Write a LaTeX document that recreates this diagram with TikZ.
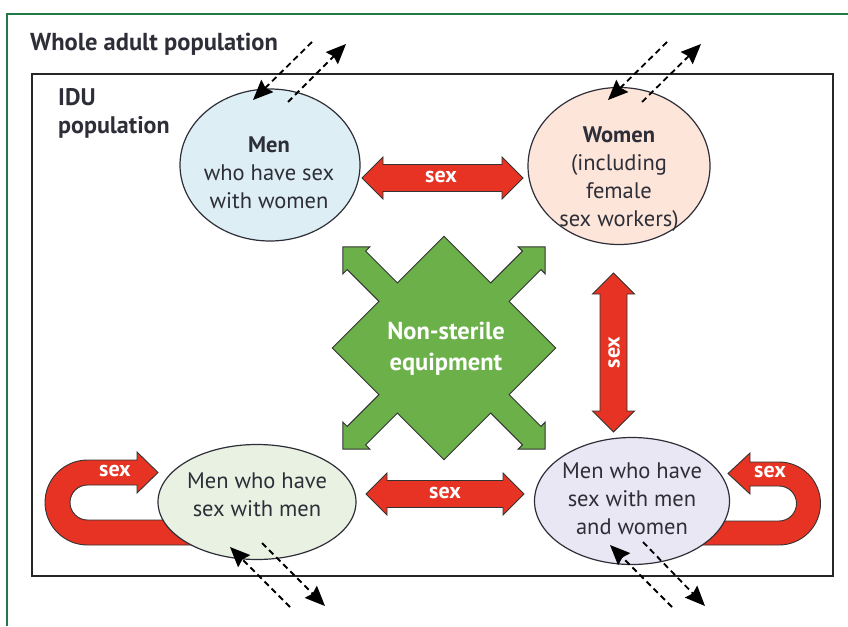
\documentclass[tikz,border=0pt]{standalone}
\usepackage{fontspec}
\setmainfont{PT Sans}
\usetikzlibrary{shapes.geometric,arrows.meta}
\definecolor{framegreen}{HTML}{1F7A45}
\definecolor{txt}{HTML}{2E2E38}
\definecolor{redarr}{HTML}{E63323}
\definecolor{greenx}{HTML}{6BB048}
\definecolor{fillmsw}{HTML}{DDEEF4}
\definecolor{fillwom}{HTML}{FDE5DA}
\definecolor{fillmsm}{HTML}{E9F2E2}
\definecolor{fillmsmw}{HTML}{E9E7F3}
\tikzset{
  grp/.style={ellipse, draw=txt, line width=1.2pt, inner sep=0pt},
  grptext/.style={text=txt, align=center, inner sep=0pt, font=\fontsize{22.5}{28}\selectfont},
  redshape/.style={fill=redarr, draw=black!80, line width=0.9pt},
  sexlabel/.style={text=white, font=\fontsize{22}{22}\selectfont\bfseries, inner sep=0pt},
  dasharrow/.style={dash pattern=on 6pt off 4pt, line width=1.8pt, black,
    -{Stealth[length=20pt,width=17pt,inset=2.5pt]}},
  pics/dblarrow/.style={code={
    \draw[redshape] (-#1,0) -- ({-#1+21},-21) -- ({-#1+21},-13.5) -- ({#1-21},-13.5)
      -- ({#1-21},-21) -- (#1,0) -- ({#1-21},21) -- ({#1-21},13.5) -- ({-#1+21},13.5)
      -- ({-#1+21},21) -- cycle;}}
}
\begin{document}
\begin{tikzpicture}[x=1pt,y=-1pt]
\useasboundingbox (0,0) rectangle (848,626);
% outer frame
\draw[framegreen, line width=1.3pt] (7,626) -- (7,14) -- (848,14);
\node[anchor=base west, text=txt, font=\fontsize{24.5}{28}\selectfont\bfseries, inner sep=0pt] (whole) at (30,51) {Whole adult population};
% IDU box
\draw[black!85, line width=1.8pt] (32,74) rectangle (833,576);
\node[anchor=base west, text=txt, font=\fontsize{24}{28}\selectfont\bfseries, inner sep=0pt] (idu) at (58,105) {IDU};
\node[anchor=base west, text=txt, font=\fontsize{24}{28}\selectfont\bfseries, inner sep=0pt] (idu2) at (58,133) {population};

% U-turn arrows (under ellipses)
\draw[redshape] (215,545) -- (87.5,545) arc[start angle=90, end angle=270, radius=42.5]
  -- (137,460) -- (137,452) -- (158,472.5) -- (137,493) -- (137,485) -- (87.5,485)
  arc[start angle=270, end angle=90, radius=17.5] -- (215,520) -- cycle;
\node[sexlabel] (sexl) at (115,471) {sex};
\draw[redshape] (680,545) -- (779,545) arc[start angle=90, end angle=-90, radius=41.5]
  -- (750,462) -- (750,453) -- (728,473.5) -- (750,494) -- (750,486) -- (779,486)
  arc[start angle=-90, end angle=90, radius=17.5] -- (680,521) -- cycle;
\node[sexlabel] (sexr) at (770,472) {sex};

% groups
\node[grp, fill=fillmsw, minimum width=180pt, minimum height=152pt] (msw) at (270,165) {};
\node[grptext] (mswt) at (269,173) {\textbf{Men}\\who have sex\\with women};
\node[grp, fill=fillwom, minimum width=182pt, minimum height=157pt] (wom) at (619,166) {};
\node[grptext] (womt) at (619,179) {\textbf{Women}\\(including\\female\\sex workers)};
\node[grp, fill=fillmsm, minimum width=198pt, minimum height=115pt] (msm) at (257,502) {};
\node[grptext] (msmt) at (257,495) {Men who have\\sex with men};
\node[grp, fill=fillmsmw, minimum width=195pt, minimum height=127pt] (msmw) at (632,501) {};
\node[grptext] (msmwt) at (632,499) {Men who have\\sex with men\\and women};

% green cross
\begin{scope}[shift={(444,348)}, rotate=45]
\draw[fill=greenx, draw=black!80, line width=0.9pt]
 (79,-79) -- (79,-13) -- (124,-13) -- (124,-19) -- (143,0) -- (124,19) -- (124,13) -- (79,13)
 -- (79,79) -- (13,79) -- (13,124) -- (19,124) -- (0,143) -- (-19,124) -- (-13,124) -- (-13,79)
 -- (-79,79) -- (-79,13) -- (-124,13) -- (-124,19) -- (-143,0) -- (-124,-19) -- (-124,-13) -- (-79,-13)
 -- (-79,-79) -- (-13,-79) -- (-13,-124) -- (-19,-124) -- (0,-143) -- (19,-124) -- (13,-124) -- (13,-79)
 -- cycle;
\end{scope}
\node[text=white, align=center, inner sep=0pt, font=\fontsize{24.5}{31}\selectfont\bfseries] (nse) at (446,349) {Non-sterile\\equipment};

% red double arrows
\pic at (442.5,178) {dblarrow=80.5};
\node[sexlabel] (sext) at (441,177) {sex};
\pic at (445,494) {dblarrow=79};
\node[sexlabel] (sexb) at (445,493) {sex};
\pic[rotate=90] at (613.5,352.5) {dblarrow=79.5};
\node[sexlabel, rotate=90] (sexv) at (614,352.5) {sex};

% dashed in/out arrows
\coordinate (a1) at (312,42);  \coordinate (a1t) at (253,100);
\coordinate (a2) at (288,102); \coordinate (a2t) at (346,44);
\coordinate (b1) at (667,42);  \coordinate (b1t) at (608,100);
\coordinate (b2) at (642,102); \coordinate (b2t) at (701,44);
\coordinate (c1) at (290,607); \coordinate (c1t) at (230,547);
\coordinate (c2) at (262,543); \coordinate (c2t) at (325,606);
\coordinate (d1) at (672,607); \coordinate (d1t) at (610,545);
\coordinate (d2) at (643,542); \coordinate (d2t) at (705,606);
\draw[dasharrow] (a1) -- (a1t);
\draw[dasharrow] (a2) -- (a2t);
\draw[dasharrow] (b1) -- (b1t);
\draw[dasharrow] (b2) -- (b2t);
\draw[dasharrow] (c1) -- (c1t);
\draw[dasharrow] (c2) -- (c2t);
\draw[dasharrow] (d1) -- (d1t);
\draw[dasharrow] (d2) -- (d2t);
\end{tikzpicture}
\end{document}
